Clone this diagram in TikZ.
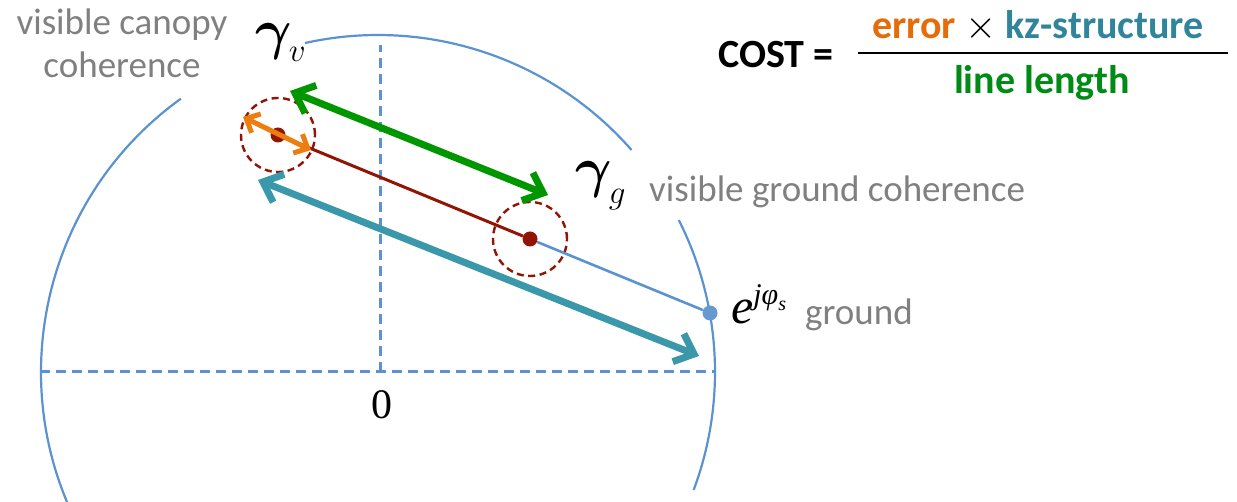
\RequirePackage{fix-cm}
\documentclass[tikz,border=0pt]{standalone}
\usepackage[no-math]{fontspec}
\setmainfont{Carlito}
\newfontfamily\tnr{Liberation Serif}
\usetikzlibrary{arrows.meta}
\definecolor{circblue}{RGB}{91,146,208}
\definecolor{dotblue}{RGB}{102,153,207}
\definecolor{darkred}{RGB}{145,20,5}
\definecolor{arrorange}{RGB}{237,125,13}
\definecolor{arrgreen}{RGB}{0,150,0}
\definecolor{arrteal}{RGB}{58,152,170}
\definecolor{txtorange}{RGB}{228,108,10}
\definecolor{txtteal}{RGB}{49,133,155}
\definecolor{txtgreen}{RGB}{0,140,20}
\definecolor{txtgray}{RGB}{128,128,128}
\begin{document}
\begin{tikzpicture}[x=1pt,y=1pt,
  circ/.style={draw=circblue, line width=2.2pt},
  axis/.style={draw=circblue, line width=3pt, dash pattern=on 10pt off 6pt},
  errcirc/.style={circle, draw=darkred, line width=2.4pt, dash pattern=on 7pt off 4.5pt, minimum size=74pt, inner sep=0},
  reddot/.style={circle, fill=darkred, inner sep=0, minimum size=15pt},
  bluedot/.style={circle, fill=dotblue, inner sep=0, minimum size=15pt},
  graytxt/.style={text=txtgray, font=\fontsize{37}{43}\selectfont, inner sep=0},
  greeklbl/.style={font=\fontsize{56}{60}\selectfont, inner sep=0},
  mathlbl/.style={font=\tnr\itshape\fontsize{50}{56}\selectfont, inner sep=0},
  costtxt/.style={font=\bfseries\fontsize{40}{48}\selectfont, inner sep=0, text height=28pt, text depth=9pt},
  bigbarb/.tip={Straight Barb[length=17pt,width=30pt,line width=7pt]},
  smallbarb/.tip={Straight Barb[length=11pt,width=21pt,line width=5pt]},
  bigarrow/.style={line width=7pt, bigbarb-bigbarb},
  smallarrow/.style={line width=5pt, smallbarb-smallbarb}
]
\useasboundingbox (0,0) rectangle (1237,502);
% unit circle (clipped)
\coordinate (C) at (378,130);
\begin{scope}
\clip (0,0) rectangle (1237,502);
\draw[circ] (C) ++(-20.5:337) arc[start angle=-20.5, end angle=26.8, radius=337];
\draw[circ] (C) ++(41.2:337) arc[start angle=41.2, end angle=102.5, radius=337];
\draw[circ] (C) ++(125.8:337) arc[start angle=125.8, end angle=215, radius=337];
\end{scope}
% axes
\coordinate (O) at (380,130);
\coordinate (xl) at (40,130);
\coordinate (xr) at (714,130);
\coordinate (yt) at (380,457);
\draw[axis] (xl) -- (xr);
\draw[axis] (O) -- (yt);
\node[font=\tnr\fontsize{42}{48}\selectfont, inner sep=0] (zero) at (382,97) {0};
% points
\node[reddot] (vpt) at (278,367) {};
\node[reddot] (gpt) at (530,263) {};
\node[bluedot] (spt) at (710,189) {};
\node[errcirc] (verr) at (vpt) {};
\node[errcirc] (gerr) at (gpt) {};
\draw[draw=darkred, line width=3pt] (vpt) -- (gpt);
\draw[draw=circblue, line width=2.6pt] (gpt) -- (spt);
% arrows
\coordinate (ta) at (258,322);
\coordinate (tb) at (699,146);
\draw[bigarrow, draw=arrteal] (ta) -- (tb);
\coordinate (ga) at (290,411);
\coordinate (gb) at (548,307);
\draw[bigarrow, draw=arrgreen] (ga) -- (gb);
\coordinate (oa) at (243,385);
\coordinate (ob) at (311,352);
\draw[smallarrow, draw=arrorange] (oa) -- (ob);
% labels
\node[greeklbl, anchor=base west] (gv) at (255,453) {{\boldmath$\gamma$}\kern-3pt\raisebox{-13pt}{\fontsize{33}{36}\selectfont$v$}};
\node[greeklbl, anchor=base west] (gg) at (575,315) {{\boldmath$\gamma$}\kern-3pt\raisebox{-17pt}{\fontsize{33}{36}\selectfont$g$}};
\node[mathlbl, anchor=base west] (elbl) at (731,178) {e\raisebox{19pt}{\fontsize{30}{34}\selectfont jφ\raisebox{-6pt}{\fontsize{20}{24}\selectfont s}}};
\node[graytxt, anchor=base] (canopy1) at (122,467) {visible canopy};
\node[graytxt, anchor=base] (canopy2) at (122,424) {coherence};
\node[graytxt, anchor=base west] (vgc) at (649,300) {visible ground coherence};
\node[graytxt, anchor=base west] (gnd) at (805,177) {ground};
% cost formula
\node[costtxt, anchor=base] (cost) at (776,434) {COST =};
\coordinate (fl) at (858,449);
\coordinate (fr) at (1228,449);
\draw[line width=2pt] (fl) -- (fr);
\node[costtxt, anchor=base] (num) at (1038,463) {\textcolor{txtorange}{error} {\mdseries$\times$} \textcolor{txtteal}{kz-structure}};
\node[costtxt, anchor=base, text=txtgreen] (den) at (1042,408) {line length};
\end{tikzpicture}
\end{document}
